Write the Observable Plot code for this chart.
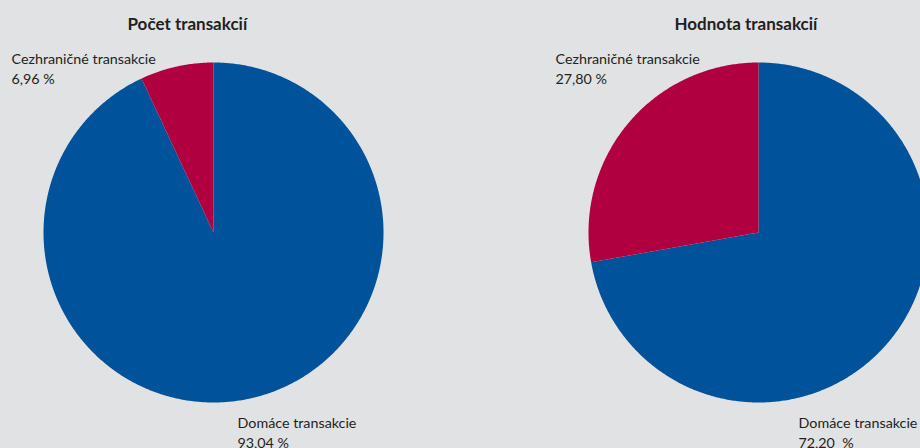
<!DOCTYPE html>
<html>
<head>
<meta charset="utf-8">
<script src="https://cdn.jsdelivr.net/npm/d3@7"></script>
<script src="https://cdn.jsdelivr.net/npm/@observablehq/plot@0.6"></script>
<style>
  html, body { margin: 0; padding: 0; background: #e1e2e4; overflow: hidden; }
  #chart svg { display: block; background: #e1e2e4; }
</style>
</head>
<body>
<div id="chart"></div>
<script>
// ---- data ----
const chartTitles = ["Počet transakcií", "Hodnota transakcií"];
const categories = ["Domáce transakcie", "Cezhraničné transakcie"];
const pocetValues = [93.04, 6.96];
const hodnotaValues = [72.20, 27.80];
const pocetLabels = ["93,04 %", "6,96 %"];
const hodnotaLabels = ["72,20  %", "27,80 %"];
const colors = ["#00529b", "#b0003f"];

// ---- layout (pixels) ----
const W = 920, H = 448, R = 170;
const centersPx = [[213, 232], [758, 232]];
const font = "Lato, 'Noto Sans', sans-serif";
const labelSize = 14.3, titleSize = 17, labelLine = 20;

// pixel -> unit coordinates (1 unit = radius)
const ux = px => (px - centersPx[0][0]) / R;
const uy = py => (centersPx[0][1] - py) / R;

const series = [pocetValues, hodnotaValues];
const slices = [];
series.forEach((vals, ci) => {
  const total = d3.sum(vals);
  const cx = ux(centersPx[ci][0]), cy = uy(centersPx[ci][1]);
  let start = 0;
  vals.forEach((v, k) => {
    const a0 = start / total * 2 * Math.PI;
    const a1 = (start + v) / total * 2 * Math.PI;
    start += v;
    const key = chartTitles[ci] + "|" + categories[k];
    slices.push({key, cat: categories[k], x: cx, y: cy});
    const n = Math.max(2, Math.ceil((a1 - a0) / (Math.PI / 360)));
    for (let j = 0; j <= n; j++) {
      const a = a0 + (a1 - a0) * j / n;
      slices.push({key, cat: categories[k], x: cx + Math.sin(a), y: cy + Math.cos(a)});
    }
    slices.push({key, cat: categories[k], x: cx, y: cy});
  });
});

// text positions: x = left edge, y = first baseline (pixels)
const titleData = [
  {text: chartTitles[0], x: 127, y: 29},
  {text: chartTitles[1], x: 674, y: 29}
];
const labelData = [
  {text: categories[1] + "\n" + pocetLabels[1], x: 11, y: 64},
  {text: categories[0] + "\n" + pocetLabels[0], x: 237, y: 427.5},
  {text: categories[1] + "\n" + hodnotaLabels[1], x: 555, y: 64},
  {text: categories[0] + "\n" + hodnotaLabels[0], x: 798, y: 427.5}
];

const plot = Plot.plot({
  width: W, height: H,
  margin: 0,
  style: {background: "#e1e2e4", fontFamily: font, color: "#231f20"},
  x: {domain: [ux(0), ux(W)], axis: null},
  y: {domain: [uy(H), uy(0)], axis: null},
  color: {domain: categories, range: colors},
  marks: [
    Plot.line(slices, {x: "x", y: "y", z: "key", fill: "cat", stroke: "none", curve: "linear"}),
    Plot.text(titleData, {x: d => ux(d.x), y: d => uy(d.y - 0.71 * titleSize), text: "text", textAnchor: "start", lineAnchor: "top",
      fontSize: titleSize, fontWeight: "bold", fill: "#231f20"}),
    Plot.text(labelData, {x: d => ux(d.x), y: d => uy(d.y - 0.71 * labelLine), text: "text", textAnchor: "start", lineAnchor: "top",
      fontSize: labelSize, lineHeight: labelLine / labelSize, fill: "#231f20"})
  ]
});
document.getElementById("chart").appendChild(plot);
</script>
</body>
</html>
